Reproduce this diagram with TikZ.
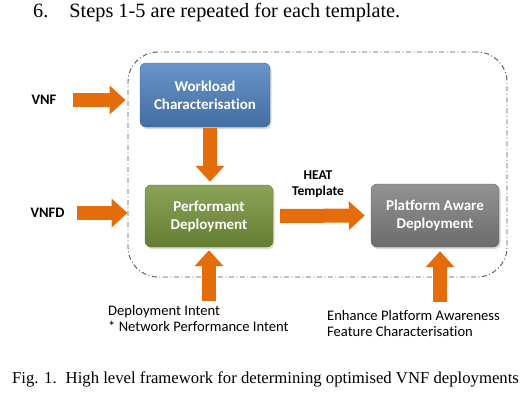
\documentclass[tikz,border=0pt]{standalone}
\usepackage{fontspec}
\setmainfont{Liberation Serif}
\newfontfamily\carlito[Ligatures=NoCommon]{Carlito}
\usepackage{xcolor}
\definecolor{wlblue}{RGB}{79,129,189}
\definecolor{pdgreen}{RGB}{119,147,60}
\definecolor{pagray}{RGB}{127,127,127}
\definecolor{flow}{RGB}{228,108,10}
\definecolor{frameline}{RGB}{70,84,112}
\usepackage{tikz}
\usetikzlibrary{arrows.meta, positioning, shadows}

\begin{document}
\begin{tikzpicture}[
    x=1pt, y=-1pt,
    box/.style={rectangle, rounded corners=6pt, minimum width=128pt, minimum height=63pt, align=center,
        text=white, font=\carlito\bfseries\fontsize{15}{18}\selectfont,
        drop shadow={opacity=0.3, shadow xshift=1.5pt, shadow yshift=-2pt}},
    label/.style={font=\carlito\bfseries\fontsize{14.5}{17}\selectfont, align=center},
    note/.style={font=\carlito\fontsize{14.6}{16.5}\selectfont, align=left, inner sep=0pt},
    bigarrow/.style={-{Triangle[width=28pt,length=16pt]}, line width=14pt, flow}
]
\useasboundingbox (0,0) rectangle (529,400);

\node[anchor=base west, inner sep=0pt, font=\fontsize{20.3}{24}\selectfont] (step) at (33,17) {6.\hspace{21pt}Steps 1-5 are repeated for each template.};

% dashed framework boundary
\node[draw=frameline, line width=0.9pt, rounded corners=30pt, dash pattern=on 5pt off 2.5pt on 1pt off 2.5pt,
      minimum width=379pt, minimum height=225pt] (frame) at (317.5,164.5) {};

\node[box, top color=wlblue!85!white, bottom color=wlblue!85!black, draw=wlblue!80!black, minimum width=130pt, minimum height=64pt] (workload) at (205,95) {Workload\\Characterisation};
\node[box, top color=pdgreen!85!white, bottom color=pdgreen!85!black, draw=pdgreen!80!black, minimum height=62pt] (perf) at (209,216) {Performant\\Deployment};
\node[box, top color=pagray!85!white, bottom color=pagray!85!black, draw=pagray!80!black] (plat) at (435,215.5) {Platform Aware\\Deployment};

\node[label] (vnf) at (44,100) {VNF};
\node[label] (vnfd) at (47.5,213) {VNFD};
\node[label, font=\carlito\bfseries\fontsize{13.5}{15.5}\selectfont] (heat) at (318,184) {HEAT\\Template};

\node[note, anchor=north west] (intent) at (108,305) {Deployment Intent\\* Network Performance Intent};
\node[note, anchor=north west] (aware) at (327,310) {Enhance Platform Awareness\\Feature Characterisation};

\node[anchor=base west, inner sep=0pt, font=\fontsize{16.7}{20}\selectfont] (caption) at (12,383) {Fig. 1.\hspace{9pt}High level framework for determining optimised VNF deployments};

\draw[bigarrow, shorten <=13pt, shorten >=2pt] (vnf.east) -- (vnf.east -| frame.west);
\draw[bigarrow, shorten <=9pt, shorten >=0pt] (vnfd.east) -- (vnfd.east -| frame.west);
\draw[bigarrow, shorten <=1pt, shorten >=3pt] ([xshift=5pt]workload.south) -- ([xshift=5pt]workload.south |- perf.north);
\draw[bigarrow, shorten <=4pt, shorten >=3pt] (intent.north -| perf.south) -- (perf.south);
\draw[bigarrow, shorten <=7pt, shorten >=6pt] (perf.east) -- (plat.west);
\draw[bigarrow, shorten <=8pt, shorten >=4pt] ([xshift=5pt]plat.south |- aware.north) -- ([xshift=5pt]plat.south);
\end{tikzpicture}
\end{document}
